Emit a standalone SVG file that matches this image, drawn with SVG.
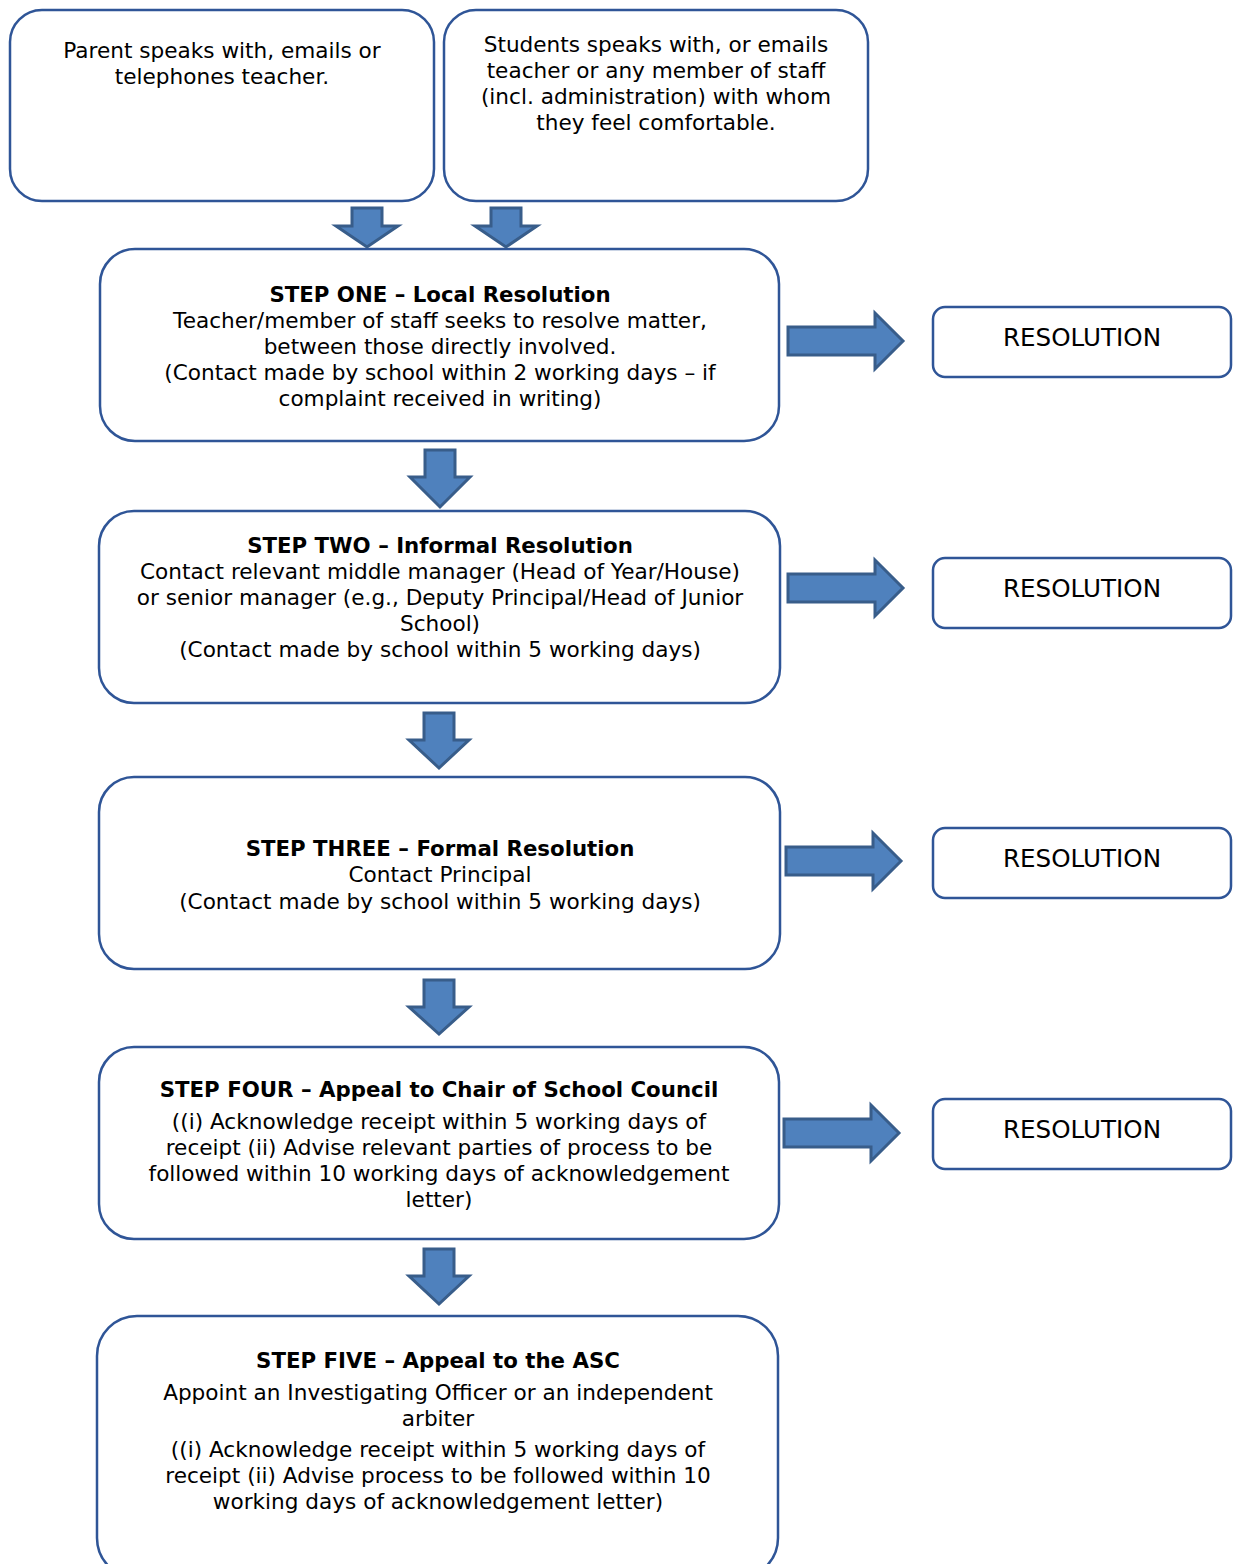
<svg xmlns="http://www.w3.org/2000/svg" width="1233" height="1564" viewBox="0 0 1233 1564">
<style>
.box{fill:#fff;stroke:#2F5597;stroke-width:2.5}
.arr{fill:#4F81BD;stroke:#385D8A;stroke-width:3;stroke-linejoin:miter}
text{font-family:"DejaVu Sans",Verdana,sans-serif;font-size:21.6px;fill:#000;text-anchor:middle}
.b{font-weight:bold;font-size:21.3px}
.r{font-size:24.6px}
</style>
<rect width="1233" height="1564" fill="#fff"/>
<g id="node-parent"><rect class="box" x="10" y="10" width="424" height="191" rx="32"/>
<text x="222" y="58">Parent speaks with, emails or</text>
<text x="222" y="84">telephones teacher.</text></g>
<g id="node-student"><rect class="box" x="444" y="10" width="424" height="191" rx="32"/>
<text x="656" y="52">Students speaks with, or emails</text>
<text x="656" y="78">teacher or any member of staff</text>
<text x="656" y="104">(incl. administration) with whom</text>
<text x="656" y="130">they feel comfortable.</text></g>
<g id="node-step1"><rect class="box" x="100" y="249" width="679" height="192" rx="35"/>
<text class="b" x="440" y="302">STEP ONE – Local Resolution</text>
<text x="440" y="328">Teacher/member of staff seeks to resolve matter,</text>
<text x="440" y="354">between those directly involved.</text>
<text x="440" y="380">(Contact made by school within 2 working days – if</text>
<text x="440" y="406">complaint received in writing)</text></g>
<g id="node-step2"><rect class="box" x="99" y="511" width="681" height="192" rx="35"/>
<text class="b" x="440" y="553">STEP TWO – Informal Resolution</text>
<text x="440" y="579">Contact relevant middle manager (Head of Year/House)</text>
<text x="440" y="605">or senior manager (e.g., Deputy Principal/Head of Junior</text>
<text x="440" y="631">School)</text>
<text x="440" y="657">(Contact made by school within 5 working days)</text></g>
<g id="node-step3"><rect class="box" x="99" y="777" width="681" height="192" rx="35"/>
<text class="b" x="440" y="856">STEP THREE – Formal Resolution</text>
<text x="440" y="882">Contact Principal</text>
<text x="440" y="909">(Contact made by school within 5 working days)</text></g>
<g id="node-step4"><rect class="box" x="99" y="1047" width="680" height="192" rx="35"/>
<text class="b" x="439" y="1097">STEP FOUR – Appeal to Chair of School Council</text>
<text x="439" y="1129">((i) Acknowledge receipt within 5 working days of</text>
<text x="439" y="1155">receipt (ii) Advise relevant parties of process to be</text>
<text x="439" y="1181">followed within 10 working days of acknowledgement</text>
<text x="439" y="1207">letter)</text></g>
<g id="node-step5"><rect class="box" x="97" y="1316" width="681" height="262" rx="40"/>
<text class="b" x="438" y="1368">STEP FIVE – Appeal to the ASC</text>
<text x="438" y="1400">Appoint an Investigating Officer or an independent</text>
<text x="438" y="1426">arbiter</text>
<text x="438" y="1457">((i) Acknowledge receipt within 5 working days of</text>
<text x="438" y="1483">receipt (ii) Advise process to be followed within 10</text>
<text x="438" y="1509">working days of acknowledgement letter)</text></g>
<g id="node-res1"><rect class="box" x="933" y="307" width="298" height="70" rx="12"/><text class="r" x="1082" y="346">RESOLUTION</text></g>
<g id="node-res2"><rect class="box" x="933" y="558" width="298" height="70" rx="12"/><text class="r" x="1082" y="597">RESOLUTION</text></g>
<g id="node-res3"><rect class="box" x="933" y="828" width="298" height="70" rx="12"/><text class="r" x="1082" y="867">RESOLUTION</text></g>
<g id="node-res4"><rect class="box" x="933" y="1099" width="298" height="70" rx="12"/><text class="r" x="1082" y="1138">RESOLUTION</text></g>
<g id="connectors">
<path class="arr" d="M352 208H382V226H398L367 247L336 226H352Z"/>
<path class="arr" d="M491 208H521V226H537L506 247L475 226H491Z"/>
<path class="arr" d="M425 450H455V477H470L440 507L410 477H425Z"/>
<path class="arr" d="M424 713H454V740H469L439 768L409 740H424Z"/>
<path class="arr" d="M424 980H454V1007H469L439 1034L409 1007H424Z"/>
<path class="arr" d="M424 1249H454V1276H469L439 1304L409 1276H424Z"/>
<path class="arr" d="M788 327H875V313L903 341L875 369V355H788Z"/>
<path class="arr" d="M788 574H875V560L903 588L875 616V602H788Z"/>
<path class="arr" d="M786 847H873V833L901 861L873 889V875H786Z"/>
<path class="arr" d="M784 1119H871V1105L899 1133L871 1161V1147H784Z"/>
</g>
</svg>
